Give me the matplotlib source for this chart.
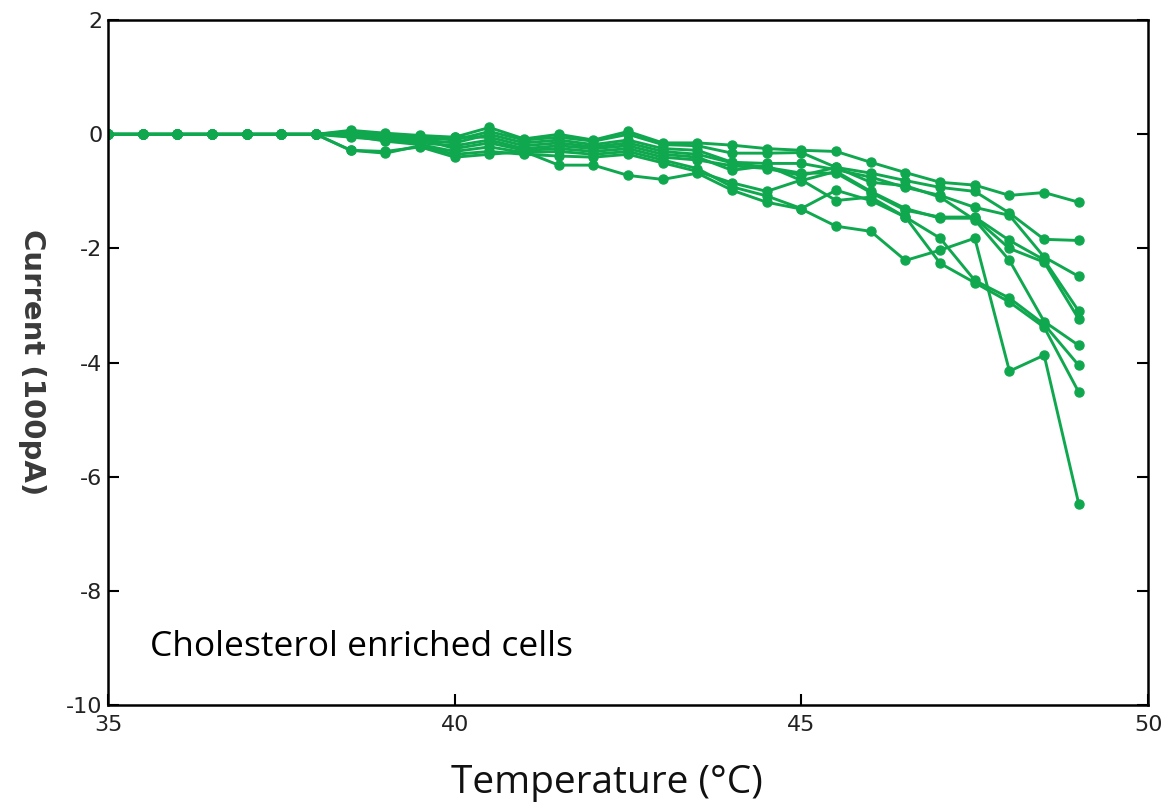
import matplotlib.pyplot as plt
import numpy as np

plt.rcParams['axes.unicode_minus'] = False

# temperature steps (°C)
temps = np.arange(35, 49.01, 0.5)

# all traces sit at 0 from 35 to 38 °C
flat = [0, 0, 0, 0, 0, 0, 0]

# values from 38.5 to 49 °C, current in units of 100 pA
s1 = [0.07, 0.02, -0.02, -0.05, 0.12, -0.08, 0.00, -0.10, 0.05, -0.15, -0.15,
      -0.19, -0.25, -0.28, -0.30, -0.49, -0.67, -0.84, -0.89, -1.07, -1.02, -1.19]
s2 = [0.03, -0.02, -0.05, -0.10, 0.05, -0.10, -0.05, -0.12, 0.00, -0.18, -0.20,
      -0.33, -0.33, -0.32, -0.58, -0.68, -0.81, -0.93, -1.00, -1.38, -1.84, -1.86]
s3 = [0.00, -0.05, -0.10, -0.15, 0.00, -0.15, -0.10, -0.18, -0.10, -0.25, -0.28,
      -0.49, -0.51, -0.51, -0.62, -0.75, -0.93, -1.07, -1.28, -1.42, -2.15, -2.49]
s4 = [-0.02, -0.07, -0.12, -0.05, -0.05, -0.20, -0.15, -0.22, -0.15, -0.30, -0.35,
      -0.50, -0.58, -0.68, -0.68, -1.02, -1.33, -1.45, -1.45, -1.86, -2.20, -3.10]
s5 = [-0.05, -0.10, -0.15, -0.20, -0.10, -0.25, -0.20, -0.25, -0.20, -0.35, -0.40,
      -0.63, -0.55, -0.81, -0.65, -1.00, -1.30, -1.47, -1.47, -2.00, -2.24, -3.24]
s6 = [0.05, -0.03, -0.08, -0.25, -0.15, -0.28, -0.25, -0.30, -0.25, -0.40, -0.45,
      -0.55, -0.60, -0.72, -0.58, -0.84, -0.90, -1.10, -1.50, -2.21, -3.28, -3.70]
s7 = [-0.02, -0.12, -0.18, -0.30, -0.22, -0.32, -0.30, -0.35, -0.30, -0.45, -0.60,
      -0.92, -1.08, -1.30, -0.98, -1.16, -1.45, -1.82, -2.56, -2.87, -3.33, -4.05]
s8 = [-0.28, -0.33, -0.20, -0.35, -0.30, -0.35, -0.38, -0.40, -0.35, -0.50, -0.65,
      -0.85, -1.00, -0.80, -1.16, -1.10, -1.45, -2.26, -2.60, -2.94, -3.38, -4.52]
s9 = [-0.28, -0.30, -0.22, -0.40, -0.35, -0.30, -0.54, -0.54, -0.72, -0.79, -0.68,
      -0.98, -1.19, -1.31, -1.61, -1.70, -2.21, -2.03, -1.82, -4.15, -3.87, -6.48]

traces = [s1, s2, s3, s4, s5, s6, s7, s8, s9]
green = '#10a84f'

fig = plt.figure(figsize=(11.68, 8.08), dpi=100)
ax = fig.add_axes([0.0925, 0.1275, 0.8905, 0.8475])

for tr in traces:
    ax.plot(temps, flat + tr, color=green, lw=2.1, marker='o', ms=6.5)

ax.set_xlim(35, 50)
ax.set_ylim(-10, 2)
ax.set_xticks([35, 40, 45, 50])
ax.set_yticks([-10, -8, -6, -4, -2, 0, 2])
ax.tick_params(direction='in', length=8, width=1.5, labelsize=16,
               right=True, top=False, colors='black', labelcolor='#222222')
ax.tick_params(axis='x', pad=7)
ax.tick_params(axis='y', pad=4)
for sp in ax.spines.values():
    sp.set_linewidth(1.8)

ax.text(0.04, 0.085, 'Cholesterol enriched cells', transform=ax.transAxes,
        va='center', fontsize=25.5, family='Open Sans', color='black')

fig.text(0.52, 0.031, 'Temperature (°C)', ha='center', va='center',
         fontsize=28, family='Open Sans', color='#111111')
fig.text(0.027, 0.552, 'Current (100pA)', ha='center', va='center',
         rotation=270, fontsize=21, fontweight='bold', family='DejaVu Sans',
         color='#3a3a3a')

fig.savefig('out.png', dpi=100)
